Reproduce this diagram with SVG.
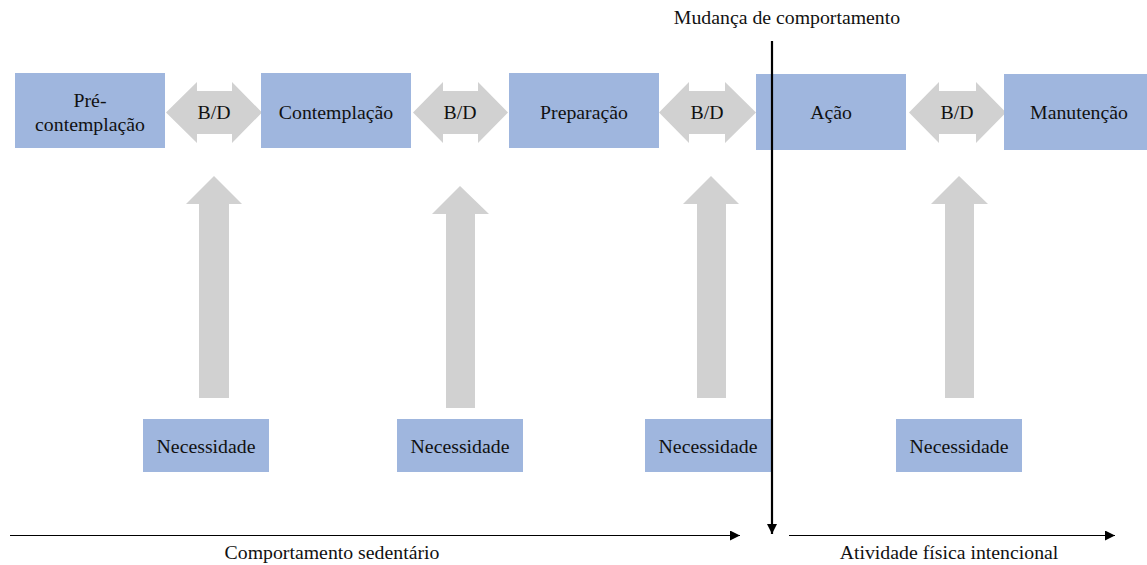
<svg xmlns="http://www.w3.org/2000/svg" width="1147" height="565" viewBox="0 0 1147 565">
<defs>
<style>
.box{fill:#9FB6DE;}
.ga{fill:#D1D1D1;}
.t{font-family:"Liberation Serif","Times New Roman",serif;font-size:19.8px;fill:#111;text-anchor:middle;}
.ln{stroke:#000;fill:none;}
</style>
<marker id="ah" markerWidth="10" markerHeight="10" refX="10" refY="5" orient="auto" markerUnits="userSpaceOnUse">
<path d="M0,0 L10,5 L0,10 Z" fill="#000"/>
</marker>
</defs>
<rect width="1147" height="565" fill="#fff"/>
<g id="connectors">
<path class="ga" d="M166,112.5 L197,82 L197,91 L232,91 L232,82 L262,112.5 L232,143 L232,134 L197,134 L197,143 Z"/>
<path class="ga" d="M413,112.5 L443,82 L443,91 L478,91 L478,82 L508,112.5 L478,143 L478,134 L443,134 L443,143 Z"/>
<path class="ga" d="M659,112.5 L689,82 L689,91 L725,91 L725,82 L756,112.5 L725,143 L725,134 L689,134 L689,143 Z"/>
<path class="ga" d="M909,112.5 L939,82 L939,91 L976,91 L976,82 L1006,112.5 L976,143 L976,134 L939,134 L939,143 Z"/>
<text class="t" x="214" y="119">B/D</text>
<text class="t" x="460" y="119">B/D</text>
<text class="t" x="707" y="119">B/D</text>
<text class="t" x="957" y="119">B/D</text>
<path class="ga" d="M214,176 L242,204 L229,204 L229,398 L199,398 L199,204 L186,204 Z"/>
<path class="ga" d="M460,186 L489,214 L475,214 L475,408 L446,408 L446,214 L432,214 Z"/>
<path class="ga" d="M711,176 L739,204 L726,204 L726,398 L697,398 L697,204 L683,204 Z"/>
<path class="ga" d="M959,176 L988,204 L974,204 L974,398 L945,398 L945,204 L931,204 Z"/>
</g>
<g id="n-precontemplacao"><rect class="box" x="15" y="73" width="150" height="75"/><text class="t" x="90" y="107">Pré-</text><text class="t" x="90" y="131">contemplação</text></g>
<g id="n-contemplacao"><rect class="box" x="261" y="73" width="150" height="75"/><text class="t" x="336" y="119">Contemplação</text></g>
<g id="n-preparacao"><rect class="box" x="509" y="73" width="150" height="75"/><text class="t" x="584" y="119">Preparação</text></g>
<g id="n-acao"><rect class="box" x="756" y="74" width="150" height="76"/><text class="t" x="831" y="119">Ação</text></g>
<g id="n-manutencao"><rect class="box" x="1004" y="74" width="150" height="76"/><text class="t" x="1079" y="119">Manutenção</text></g>
<g id="n-nec1"><rect class="box" x="143" y="419" width="126" height="53"/><text class="t" x="206" y="453">Necessidade</text></g>
<g id="n-nec2"><rect class="box" x="397" y="419" width="126" height="53"/><text class="t" x="460" y="453">Necessidade</text></g>
<g id="n-nec3"><rect class="box" x="645" y="419" width="126" height="53"/><text class="t" x="708" y="453">Necessidade</text></g>
<g id="n-nec4"><rect class="box" x="896" y="419" width="126" height="53"/><text class="t" x="959" y="453">Necessidade</text></g>
<g id="timeline">
<line class="ln" x1="772" y1="41" x2="772" y2="534" stroke-width="2.2" marker-end="url(#ah)"/>
<line class="ln" x1="10" y1="535.5" x2="740" y2="535.5" stroke-width="1" marker-end="url(#ah)"/>
<line class="ln" x1="789" y1="535.5" x2="1115" y2="535.5" stroke-width="1" marker-end="url(#ah)"/>
<text class="t" x="787" y="24">Mudança de comportamento</text>
<text class="t" x="332" y="559">Comportamento sedentário</text>
<text class="t" x="949" y="559">Atividade física intencional</text>
</g>
</svg>
